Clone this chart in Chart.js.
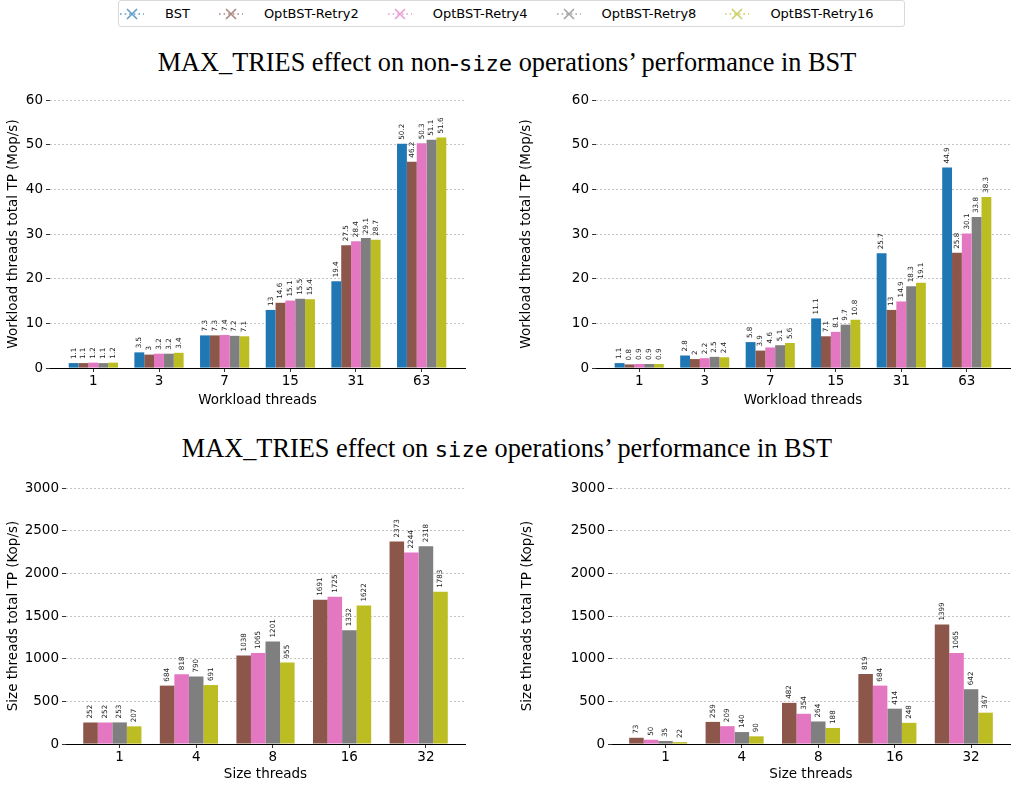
<!DOCTYPE html>
<html>
<head>
<meta charset="utf-8">
<script src="https://cdn.jsdelivr.net/npm/chart.js@4.4.0/dist/chart.umd.min.js"></script>
<style>
  body { margin: 0; width: 1014px; height: 786px; background: #fff; position: relative; overflow: hidden; font-family: 'DejaVu Sans', sans-serif; }
  canvas { position: absolute; }
  .title { position: absolute; left: 0; width: 1014px; text-align: center; font-family: 'Liberation Serif', serif; font-size: 26.3px; line-height: 30px; color: #000; white-space: nowrap; }
  .title code { font-family: 'DejaVu Sans Mono', monospace; font-size: 0.84em; }
  #legend { position: absolute; left: 118px; top: 0; width: 787px; height: 27px; border: 1px solid #d9d9d9; border-radius: 3px; box-sizing: border-box; display: flex; align-items: center; font-size: 13px; color: #000; padding-left: 1px; white-space: nowrap; }
  #legend .item { display: flex; align-items: center; margin-right: 29px; white-space: nowrap; flex-shrink: 0; }
  #legend svg { margin-right: 21px; flex-shrink: 0; }
</style>
</head>
<body>
<div id="legend"></div>
<div class="title" style="top:48px">MAX_TRIES effect on non-<code>size</code> operations’ performance in BST</div>
<div class="title" style="top:434px">MAX_TRIES effect on <code>size</code> operations’ performance in BST</div>
<canvas id="topLeft" width="480" height="330" style="left:0;top:88px"></canvas>
<canvas id="topRight" width="504" height="330" style="left:510px;top:88px"></canvas>
<canvas id="bottomLeft" width="480" height="316" style="left:0;top:470px"></canvas>
<canvas id="bottomRight" width="504" height="316" style="left:510px;top:470px"></canvas>
<script>
// series
const seriesNames = ['BST', 'OptBST-Retry2', 'OptBST-Retry4', 'OptBST-Retry8', 'OptBST-Retry16'];
const seriesColors = ['#1f77b4', '#8c564b', '#e377c2', '#7f7f7f', '#bcbd22'];

// x categories
const workloadThreads = ['1', '3', '7', '15', '31', '63'];
const sizeThreads = ['1', '4', '8', '16', '32'];

// y ticks
const workloadTicks = [0, 10, 20, 30, 40, 50, 60];
const sizeTicks = [0, 500, 1000, 1500, 2000, 2500, 3000];

// non-size ops, left panel (Mop/s)
const tlBST = [1.1, 3.5, 7.3, 13, 19.4, 50.2];
const tlRetry2 = [1.1, 3, 7.3, 14.6, 27.5, 46.2];
const tlRetry4 = [1.2, 3.2, 7.4, 15.1, 28.4, 50.3];
const tlRetry8 = [1.1, 3.2, 7.2, 15.5, 29.1, 51.1];
const tlRetry16 = [1.2, 3.4, 7.1, 15.4, 28.7, 51.6];

// non-size ops, right panel (Mop/s)
const trBST = [1.1, 2.8, 5.8, 11.1, 25.7, 44.9];
const trRetry2 = [0.8, 2, 3.9, 7.1, 13, 25.8];
const trRetry4 = [0.9, 2.2, 4.6, 8.1, 14.9, 30.1];
const trRetry8 = [0.9, 2.5, 5.1, 9.7, 18.3, 33.8];
const trRetry16 = [0.9, 2.4, 5.6, 10.8, 19.1, 38.3];

// size ops, left panel (Kop/s)
const blRetry2 = [252, 684, 1038, 1691, 2373];
const blRetry4 = [252, 818, 1065, 1725, 2244];
const blRetry8 = [253, 790, 1201, 1332, 2318];
const blRetry16 = [207, 691, 955, 1622, 1783];

// size ops, right panel (Kop/s)
const brRetry2 = [73, 259, 482, 819, 1399];
const brRetry4 = [50, 209, 354, 684, 1065];
const brRetry8 = [35, 140, 264, 414, 642];
const brRetry16 = [22, 90, 188, 248, 367];

const axisFont = { family: 'DejaVu Sans', size: 13.5 };

// legend
const legend = document.getElementById('legend');
seriesNames.forEach((name, i) => {
  const c = seriesColors[i];
  const item = document.createElement('div');
  item.className = 'item';
  item.innerHTML = `<svg width="24" height="14" style="opacity:0.7"><line x1="0" y1="7" x2="24" y2="7" stroke="${c}" stroke-width="1.6" stroke-dasharray="1.6,3"/><path d="M7,2 L17,12 M17,2 L7,12" stroke="${c}" stroke-width="1.6"/></svg><span>${name}</span>`;
  legend.appendChild(item);
});

// rotated value labels above every bar
const barLabels = {
  id: 'barLabels',
  afterDatasetsDraw(chart) {
    const ctx = chart.ctx;
    ctx.save();
    ctx.font = '7.2px "DejaVu Sans"';
    ctx.fillStyle = '#222';
    ctx.textAlign = 'left';
    ctx.textBaseline = 'middle';
    chart.data.datasets.forEach((ds, i) => {
      chart.getDatasetMeta(i).data.forEach((bar, j) => {
        const v = ds.data[j].y;
        if (v == null) return;
        ctx.save();
        ctx.translate(bar.x, bar.y - 4);
        ctx.rotate(-Math.PI / 2);
        ctx.fillText(String(v), 0, 0);
        ctx.restore();
      });
    });
    ctx.restore();
  }
};

function makeChart(id, cfg) {
  const datasets = cfg.series.map((values, i) => ({
    label: cfg.names[i] || '',
    data: values.map((v, k) => ({ x: k, y: v })),
    backgroundColor: cfg.colors[i] || 'rgba(0,0,0,0)',
    categoryPercentage: cfg.groupWidth,
    barPercentage: 1.0
  }));
  return new Chart(document.getElementById(id), {
    type: 'bar',
    data: { datasets },
    plugins: [barLabels],
    options: {
      responsive: false,
      animation: false,
      events: [],
      layout: { padding: cfg.padding },
      plugins: { legend: { display: false }, tooltip: { enabled: false } },
      scales: {
        x: {
          type: 'linear',
          min: cfg.xMin,
          max: cfg.xMax,
          offset: false,
          ticks: {
            stepSize: 1, includeBounds: false, autoSkip: false, maxRotation: 0,
            callback: (v) => cfg.labels[v], font: axisFont, color: '#000', padding: 1
          },
          grid: { display: true, drawOnChartArea: false, offset: false, tickLength: 4, tickColor: '#000', tickWidth: 0.8 },
          border: { display: true, color: '#000', width: 1 },
          title: { display: true, text: cfg.xTitle, font: axisFont, color: '#000', padding: { top: 0, bottom: cfg.xTitlePad } },
          afterFit: (s) => { s.height = cfg.xHeight; }
        },
        y: {
          min: cfg.yTicks[0],
          max: cfg.yTicks[cfg.yTicks.length - 1],
          afterBuildTicks: (s) => { s.ticks = cfg.yTicks.map(v => ({ value: v })); },
          ticks: { font: axisFont, color: '#000', padding: 3, callback: (v) => String(v) },
          grid: { color: '#b5b5b5', lineWidth: 0.8, tickLength: 4, tickColor: '#000', tickWidth: 0.8 },
          border: { display: false, dash: [2, 2] },
          title: { display: true, text: cfg.yTitle, font: axisFont, color: '#000', padding: { top: cfg.yTitlePad, bottom: 0 } },
          afterFit: (s) => { s.width = cfg.yWidth; }
        }
      }
    }
  });
}

makeChart('topLeft', {
  series: [tlBST, tlRetry2, tlRetry4, tlRetry8, tlRetry16],
  names: seriesNames, colors: seriesColors, groupWidth: 0.75,
  labels: workloadThreads, yTicks: workloadTicks,
  xMin: -0.66, xMax: 5.66,
  xTitle: 'Workload threads', yTitle: 'Workload threads total TP (Mop/s)',
  padding: { top: 12, right: 15, left: 0, bottom: 0 },
  yWidth: 50, xHeight: 50, xTitlePad: 9, yTitlePad: 5
});

makeChart('topRight', {
  series: [trBST, trRetry2, trRetry4, trRetry8, trRetry16],
  names: seriesNames, colors: seriesColors, groupWidth: 0.75,
  labels: workloadThreads, yTicks: workloadTicks,
  xMin: -0.66, xMax: 5.66,
  xTitle: 'Workload threads', yTitle: 'Workload threads total TP (Mop/s)',
  padding: { top: 12, right: 4, left: 0, bottom: 0 },
  yWidth: 86, xHeight: 50, xTitlePad: 9, yTitlePad: 8
});

// size panels: four series share five slots, the last slot stays empty
makeChart('bottomLeft', {
  series: [blRetry2, blRetry4, blRetry8, blRetry16, sizeThreads.map(() => null)],
  names: seriesNames.slice(1), colors: seriesColors.slice(1), groupWidth: 0.95,
  labels: sizeThreads, yTicks: sizeTicks,
  xMin: -0.70, xMax: 4.51,
  xTitle: 'Size threads', yTitle: 'Size threads total TP (Kop/s)',
  padding: { top: 18, right: 15, left: 0, bottom: 0 },
  yWidth: 66, xHeight: 42, xTitlePad: 3, yTitlePad: 5
});

makeChart('bottomRight', {
  series: [brRetry2, brRetry4, brRetry8, brRetry16, sizeThreads.map(() => null)],
  names: seriesNames.slice(1), colors: seriesColors.slice(1), groupWidth: 0.95,
  labels: sizeThreads, yTicks: sizeTicks,
  xMin: -0.70, xMax: 4.51,
  xTitle: 'Size threads', yTitle: 'Size threads total TP (Kop/s)',
  padding: { top: 18, right: 4, left: 0, bottom: 0 },
  yWidth: 102, xHeight: 42, xTitlePad: 3, yTitlePad: 9
});
</script>
</body>
</html>
